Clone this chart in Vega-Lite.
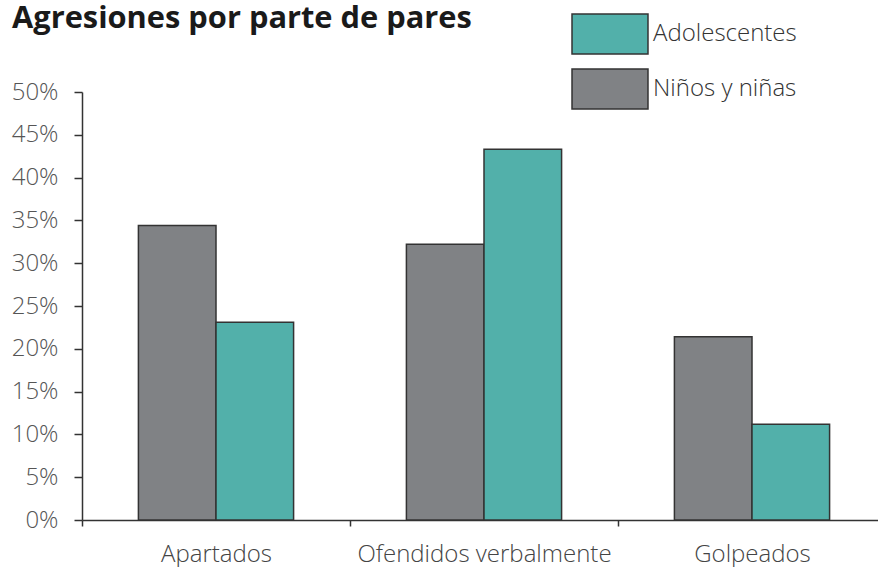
{
  "$schema": "https://vega.github.io/schema/vega-lite/v6.json",
  "autosize": {"type": "none"},
  "padding": {"left": 82, "top": 92, "right": 0, "bottom": 47},
  "width": 804,
  "height": 428,
  "background": "white",
  "title": {
    "text": "Agresiones por parte de pares",
    "anchor": "start",
    "frame": "group",
    "dx": -70,
    "offset": 0,
    "dy": 54,
    "baseline": "alphabetic",
    "font": "Open Sans",
    "fontSize": 30.8,
    "fontWeight": 700,
    "color": "#1a1a1a"
  },
  "data": {
    "values": [
      {"categoria": "Apartados", "grupo": "Niños y niñas", "valor": 34.4},
      {"categoria": "Apartados", "grupo": "Adolescentes", "valor": 23.1},
      {"categoria": "Ofendidos verbalmente", "grupo": "Niños y niñas", "valor": 32.2},
      {"categoria": "Ofendidos verbalmente", "grupo": "Adolescentes", "valor": 43.3},
      {"categoria": "Golpeados", "grupo": "Niños y niñas", "valor": 21.4},
      {"categoria": "Golpeados", "grupo": "Adolescentes", "valor": 11.2}
    ]
  },
  "mark": {"type": "bar", "stroke": "#333333", "strokeWidth": 1.5},
  "encoding": {
    "x": {
      "field": "categoria",
      "type": "nominal",
      "sort": ["Apartados", "Ofendidos verbalmente", "Golpeados"],
      "scale": {"paddingInner": 0, "paddingOuter": 0},
      "axis": {
        "title": null,
        "labelAngle": 0,
        "labelLimit": 400,
        "tickBand": "extent",
        "tickSize": 6,
        "tickColor": "#333333",
        "tickWidth": 1.5,
        "domainColor": "#333333",
        "domainWidth": 1.5,
        "labelFont": "Open Sans",
        "labelFontWeight": 300,
        "labelFontSize": 24,
        "labelColor": "#444444",
        "labelPadding": 16,
        "grid": false
      }
    },
    "xOffset": {
      "field": "grupo",
      "type": "nominal",
      "sort": ["Niños y niñas", "Adolescentes"],
      "scale": {"paddingInner": 0, "paddingOuter": 0.727}
    },
    "y": {
      "field": "valor",
      "type": "quantitative",
      "scale": {"domain": [0, 50], "nice": false},
      "axis": {
        "title": null,
        "values": [0, 5, 10, 15, 20, 25, 30, 35, 40, 45, 50],
        "labelExpr": "datum.value + '%'",
        "grid": false,
        "tickSize": 8,
        "tickColor": "#333333",
        "tickWidth": 1.5,
        "domainColor": "#333333",
        "domainWidth": 1.5,
        "labelFont": "Open Sans",
        "labelFontWeight": 300,
        "labelFontSize": 24,
        "labelColor": "#555555",
        "labelPadding": 16
      }
    },
    "color": {
      "field": "grupo",
      "type": "nominal",
      "scale": {
        "domain": ["Adolescentes", "Niños y niñas"],
        "range": ["#52b0aa", "#808285"]
      },
      "legend": {
        "title": null,
        "orient": "none",
        "legendX": 499,
        "legendY": -87,
        "padding": 0,
        "symbolType": "M-1.357,-0.714H1.357V0.714H-1.357Z",
        "symbolSize": 3136,
        "symbolStrokeColor": "#333333",
        "symbolStrokeWidth": 1.5,
        "symbolOpacity": 1,
        "rowPadding": 3,
        "labelOffset": 14,
        "labelFont": "Open Sans",
        "labelFontWeight": 300,
        "labelFontSize": 24,
        "labelColor": "#333333",
        "labelLimit": 300
      }
    }
  },
  "config": {"view": {"stroke": null}}
}
